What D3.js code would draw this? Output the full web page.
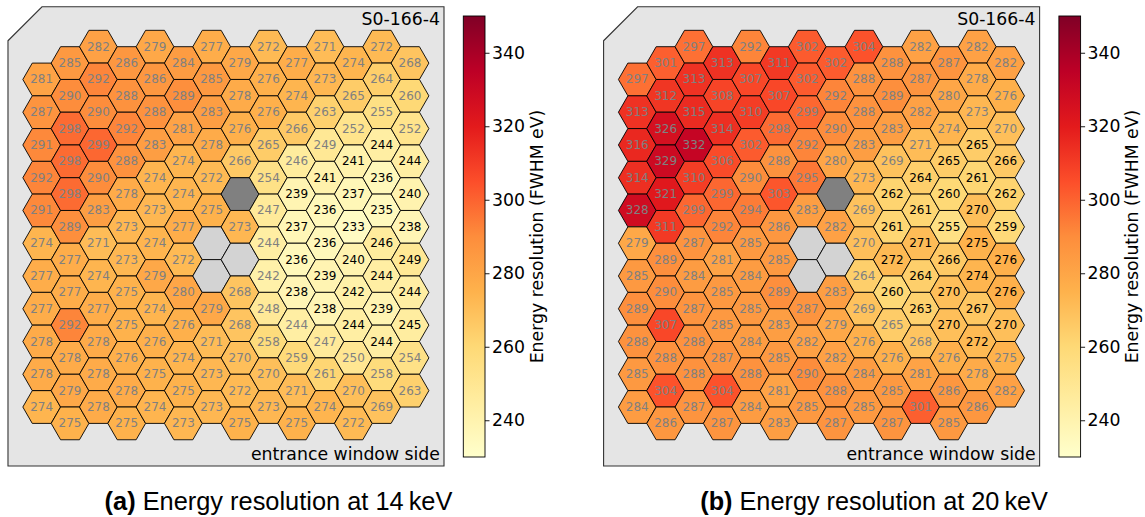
<!DOCTYPE html>
<html>
<head>
<meta charset="utf-8">
<script src="https://cdn.jsdelivr.net/npm/d3@7"></script>
<style>
  body { margin: 0; background: #ffffff; }
  svg { display: block; }
</style>
</head>
<body>
<svg id="fig" width="1145" height="517"></svg>
<script>
// Energy resolution (FWHM, eV) per pixel of detector S0-166-4.
// One array per hexagon column, listed top to bottom (12 slots per column).
// null = no value (corner slot without a pixel, or a pixel without a result).
const res14keV = [
  [null, 281, 287, 291, 292, 291, 274, 277, 277, 278, 278, 274],
  [285, 290, 298, 298, 298, 289, 277, 277, 292, 278, 279, 275],
  [282, 292, 290, 299, 290, 283, 271, 274, 277, 278, 278, 278],
  [286, 288, 292, 288, 278, 273, 273, 275, 275, 276, 278, 275],
  [279, 286, 288, 283, 274, 273, 274, 279, 274, 276, 275, 274],
  [284, 289, 281, 274, 274, 277, 272, 280, 276, 274, 275, 273],
  [277, 285, 283, 278, 272, 275, null, null, 279, 271, 273, 273],
  [279, 278, 276, 266, null, 273, null, 268, 268, 270, 272, 275],
  [272, 276, 276, 265, 254, 247, 244, 242, 248, 258, 270, 273],
  [277, 274, 266, 246, 239, 237, 236, 238, 244, 259, 271, 275],
  [271, 273, 263, 249, 241, 236, 236, 239, 238, 247, 261, 274],
  [274, 265, 252, 241, 237, 233, 240, 242, 244, 250, 270, 272],
  [272, 264, 255, 244, 236, 235, 246, 244, 239, 244, 258, 269],
  [268, 260, 252, 244, 240, 238, 249, 244, 245, 254, 263, null]
];

const res20keV = [
  [null, 297, 313, 316, 314, 328, 279, 285, 289, 288, 285, 284],
  [301, 312, 326, 329, 321, 311, 289, 290, 307, 288, 304, 286],
  [297, 313, 315, 332, 310, 299, 287, 284, 287, 288, 288, 287],
  [313, 308, 314, 306, 299, 292, 281, 285, 285, 287, 304, 287],
  [292, 307, 310, 302, 290, 294, 285, 284, 285, 284, 288, 284],
  [311, 307, 298, 288, 303, 286, 285, 289, 283, 285, 281, 283],
  [302, 302, 299, 292, 295, 283, null, null, 287, 282, 290, 285],
  [302, 292, 290, 280, null, 282, null, 283, 279, 282, 288, 287],
  [304, 288, 288, 283, 273, 269, 270, 264, 269, 276, 284, 285],
  [288, 289, 283, 269, 262, 261, 272, 260, 265, 276, 285, 287],
  [282, 287, 282, 271, 264, 261, 271, 264, 263, 268, 281, 301],
  [287, 280, 274, 265, 260, 255, 266, 270, 270, 276, 286, 285],
  [282, 278, 273, 265, 261, 270, 275, 274, 267, 272, 278, 286],
  [282, 276, 270, 266, 262, 259, 276, 276, 270, 275, 282, null]
];

// Pixels without a spectrum [column, slot]
const inactivePixels = [[6, 6], [6, 7], [7, 6]];
// Central pixel used as reference
const centralPixels = [[7, 4]];
// Slot ranges (inclusive) per column whose numbers are printed in black
const blackLabelSlots = { 9: [4, 7], 10: [4, 8], 11: [3, 8], 12: [3, 9], 13: [3, 8] };

const detectorName = "S0-166-4";
const sideLabel = "entrance window side";
const colorbarTicks = [240, 260, 280, 300, 320, 340];
const colorbarRange = [230, 350];
const colorbarTitle = "Energy resolution (FWHM eV)";
const captions = [
  { tag: "(a)", text: "Energy resolution at 14\u2009keV" },
  { tag: "(b)", text: "Energy resolution at 20\u2009keV" }
];

// matplotlib "YlOrRd" anchor colours, linearly interpolated
const ylOrRd = ["#ffffcc", "#ffeda0", "#fed976", "#feb24c", "#fd8d3c",
                "#fc4e2a", "#e31a1c", "#bd0026", "#800026"];
const color = d3.scaleLinear()
  .domain(ylOrRd.map((_, i) => colorbarRange[0] + (colorbarRange[1] - colorbarRange[0]) * i / (ylOrRd.length - 1)))
  .range(ylOrRd)
  .interpolate(d3.interpolateRgb)
  .clamp(true);

const svg = d3.select("#fig");
const FONT = "'DejaVu Sans', sans-serif";

const defs = svg.append("defs");
const grad = defs.append("linearGradient")
  .attr("id", "cbgrad").attr("x1", 0).attr("y1", 1).attr("x2", 0).attr("y2", 0);
ylOrRd.forEach((c, i) => grad.append("stop")
  .attr("offset", (i / (ylOrRd.length - 1) * 100) + "%").attr("stop-color", c));

function inList(list, c, s) { return list.some(p => p[0] === c && p[1] === s); }

function drawPanel(data, dx, caption) {
  const g = svg.append("g");

  // hexagon column -> x, half-row -> y
  const x = d3.scaleLinear().domain([0, 13]).range([41.7 + dx, 410 + dx]);
  const y = d3.scaleLinear().domain([0, 23]).range([46.7, 423.4]);
  const rx = (x(1) - x(0)) / 1.5;      // centre to left/right vertex
  const hy = y(1) - y(0);              // half hexagon height

  // detector frame with the cut corner
  const L = x(-1.19), R = x(14.2), T = y(-2.44), B = y(25.6), cut = 34;
  g.append("path")
    .attr("d", `M${L},${T + cut}L${L + cut},${T}L${R},${T}L${R},${B}L${L},${B}Z`)
    .attr("fill", "#e5e5e5").attr("stroke", "#333").attr("stroke-width", 1.1);

  // cells
  const cells = [];
  data.forEach((col, c) => col.forEach((v, s) => {
    const inactive = inList(inactivePixels, c, s);
    const central = inList(centralPixels, c, s);
    if (v === null && !inactive && !central) return;
    const rng = blackLabelSlots[c];
    cells.push({
      c, s, v, inactive, central,
      dark: rng ? (s >= rng[0] && s <= rng[1]) : false,
      cx: x(c), cy: y(2 * s + (c % 2))
    });
  }));

  const hexPath = d => {
    const pts = [
      [d.cx - rx, d.cy], [d.cx - rx / 2, d.cy - hy], [d.cx + rx / 2, d.cy - hy],
      [d.cx + rx, d.cy], [d.cx + rx / 2, d.cy + hy], [d.cx - rx / 2, d.cy + hy]
    ];
    return "M" + pts.map(p => p.join(",")).join("L") + "Z";
  };

  g.selectAll("path.hex").data(cells).join("path")
    .attr("class", "hex")
    .attr("d", hexPath)
    .attr("fill", d => d.central ? "#808080" : d.inactive ? "#d3d3d3" : color(d.v))
    .attr("stroke", "#000").attr("stroke-width", 0.9).attr("stroke-linejoin", "miter");

  g.selectAll("text.val").data(cells.filter(d => d.v !== null)).join("text")
    .attr("class", "val")
    .attr("x", d => d.cx).attr("y", d => d.cy)
    .attr("text-anchor", "middle").attr("dominant-baseline", "central")
    .attr("font-family", FONT).attr("font-size", 12)
    .attr("fill", d => d.dark ? "#000" : "#808080")
    .text(d => d.v);

  g.append("text").attr("x", R - 4).attr("y", T + 18.5)
    .attr("text-anchor", "end").attr("font-family", FONT).attr("font-size", 17.3)
    .attr("fill", "#000").text(detectorName);
  g.append("text").attr("x", R - 4).attr("y", B - 5.5)
    .attr("text-anchor", "end").attr("font-family", FONT).attr("font-size", 17.3)
    .attr("fill", "#000").text(sideLabel);

  // colour bar
  const cbX = 463.3 + dx, cbW = 21.7;
  const cy = d3.scaleLinear().domain(colorbarRange).range([457, 16]);
  g.append("rect").attr("x", cbX).attr("y", cy(colorbarRange[1]))
    .attr("width", cbW).attr("height", cy(colorbarRange[0]) - cy(colorbarRange[1]))
    .attr("fill", "url(#cbgrad)").attr("stroke", "#000").attr("stroke-width", 0.9);
  const axis = d3.axisRight(cy).tickValues(colorbarTicks).tickSize(4.5).tickPadding(2.5);
  const ax = g.append("g").attr("transform", `translate(${cbX + cbW},0)`).call(axis);
  ax.select(".domain").remove();
  ax.selectAll("line").attr("stroke", "#000").attr("stroke-width", 0.9);
  ax.selectAll("text").attr("font-family", FONT).attr("font-size", 17.3).attr("fill", "#000");
  g.append("text")
    .attr("transform", `translate(${cbX + 73.5},${(cy(colorbarRange[0]) + cy(colorbarRange[1])) / 2}) rotate(-90)`)
    .attr("text-anchor", "middle").attr("dominant-baseline", "central")
    .attr("font-family", FONT).attr("font-size", 17.3).attr("fill", "#000")
    .text(colorbarTitle);

  // sub-figure caption
  const cap = svg.append("text")
    .attr("x", 278.5 + dx).attr("y", 510)
    .attr("text-anchor", "middle")
    .attr("font-family", "'Liberation Sans', Arial, sans-serif").attr("font-size", 24)
    .attr("fill", "#000");
  cap.append("tspan").attr("font-weight", "bold").text(caption.tag);
  cap.append("tspan").text(" " + caption.text);
  const w = cap.node().getComputedTextLength();
  cap.attr("font-size", 24 * 348 / w);
}

drawPanel(res14keV, 0, captions[0]);
drawPanel(res20keV, 595.6, captions[1]);
</script>
</body>
</html>
